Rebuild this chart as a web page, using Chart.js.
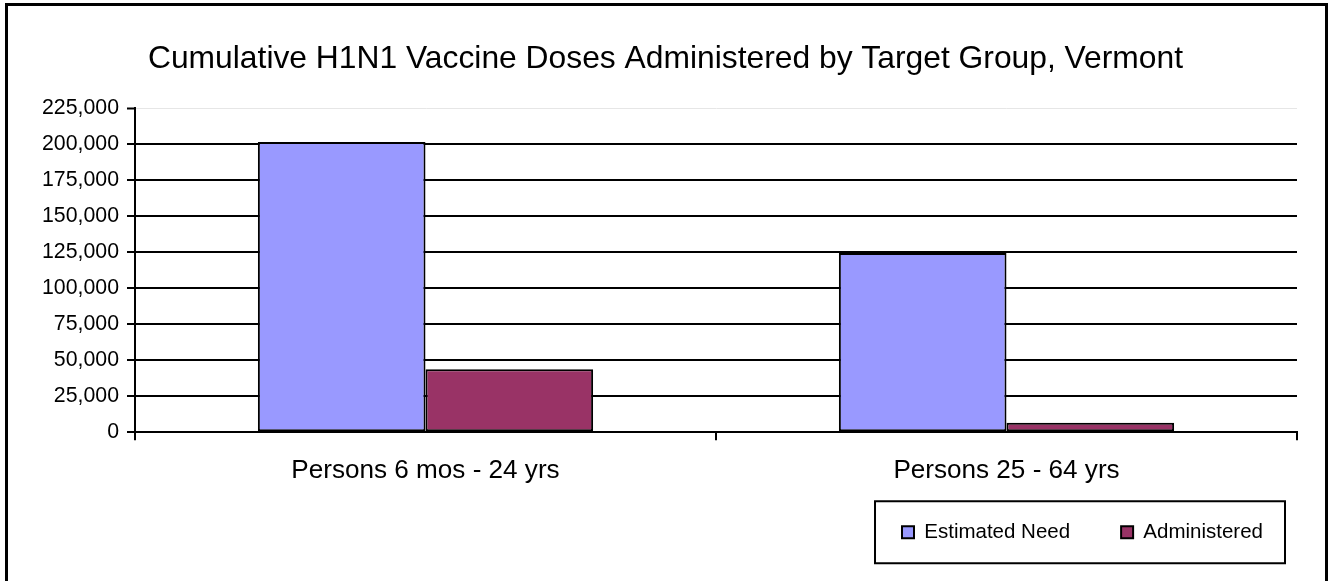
<!DOCTYPE html>
<html>
<head>
<meta charset="utf-8">
<script src="https://cdn.jsdelivr.net/npm/chart.js@4"></script>
<style>
  body { margin: 0; background: #fff; }
  #wrap { width: 1332px; height: 581px; }
</style>
</head>
<body>
<div id="wrap"><canvas id="doses"></canvas></div>
<script>
const categories = ['Persons 6 mos - 24 yrs', 'Persons 25 - 64 yrs'];
const estimatedNeed = [201500, 124500];
const administered = [43800, 6700];
const yTicks = [0, 25000, 50000, 75000, 100000, 125000, 150000, 175000, 200000, 225000];

const FONT = "'Liberation Sans', Arial, sans-serif";

// frame around the chart + box around the legend
const framePlugin = {
  id: 'frame',
  afterLayout(chart) {
    // legend sits a bit higher than the default stacking puts it
    chart.legend.top -= 16.5;
    chart.legend.bottom -= 16.5;
    // title centred on the whole frame, not on the padded box
    chart.titleBlock.left += 8.5;
    chart.titleBlock.right += 8.5;
  },
  afterDraw(chart) {
    const ctx = chart.ctx;
    ctx.save();
    ctx.strokeStyle = '#000';
    ctx.lineWidth = 3;
    ctx.beginPath();
    ctx.moveTo(6.5, 600);
    ctx.lineTo(6.5, 4.5);
    ctx.lineTo(1326.5, 4.5);
    ctx.lineTo(1326.5, 600);
    ctx.stroke();

    const boxes = chart.legend.legendHitBoxes;
    if (boxes && boxes.length) {
      const left = Math.min(...boxes.map(b => b.left)) - 27;
      const right = Math.max(...boxes.map(b => b.left + b.width)) + 22;
      const top = boxes[0].top - 20.75;
      const bottom = boxes[0].top + boxes[0].height + 20.75;
      ctx.lineWidth = 2;
      ctx.strokeRect(left, top, right - left, bottom - top);
    }
    ctx.restore();
  }
};

const data = {
  labels: categories,
  datasets: [{
    label: 'Estimated Need',
    data: estimatedNeed,
    backgroundColor: '#9999FF',
    borderColor: '#000',
    borderWidth: 2,
    borderSkipped: false,
  }, {
    label: 'Administered',
    data: administered,
    backgroundColor: '#993366',
    borderColor: '#000',
    borderWidth: 2,
    borderSkipped: false,
  }]
};

const config = {
  type: 'bar',
  data: data,
  options: {
    responsive: true,
    maintainAspectRatio: false,
    animation: false,
    categoryPercentage: 0.577,
    barPercentage: 1.0,
    layout: { padding: { left: 0, right: 18, top: 0, bottom: 12 } },
    plugins: {
      title: {
        display: true,
        text: 'Cumulative H1N1 Vaccine Doses Administered by Target Group, Vermont',
        color: '#000',
        font: { family: FONT, size: 31.8, weight: 'normal' },
        padding: { top: 39.7, bottom: 30.4 }
      },
      legend: {
        position: 'bottom',
        align: 'end',
        labels: {
          color: '#000',
          font: { family: FONT, size: 20.5 },
          boxWidth: 12,
          boxHeight: 12,
          padding: 51
        }
      },
      tooltip: { enabled: false }
    },
    scales: {
      x: {
        grid: {
          offset: true,
          drawOnChartArea: false,
          drawTicks: true,
          tickLength: 8,
          tickColor: '#000',
          lineWidth: 2
        },
        border: { display: true, color: '#000', width: 2 },
        ticks: {
          color: '#000',
          font: { family: FONT, size: 26.1 },
          padding: 15,
          maxRotation: 0
        },
        afterFit(scale) { scale.height = 55.2; }
      },
      y: {
        min: 0,
        max: 225000,
        afterBuildTicks(scale) { scale.ticks = yTicks.map(v => ({ value: v })); },
        grid: {
          color: c => (c.tick && c.tick.value === 225000) ? '#e6e6e6' : '#000',
          lineWidth: c => (c.tick && c.tick.value === 225000) ? 1 : 2,
          tickColor: '#000',
          tickWidth: 2,
          tickLength: 8
        },
        border: { display: true, color: '#000', width: 2 },
        ticks: {
          color: '#000',
          font: { family: FONT, size: 21.3 },
          padding: 8,
          callback: v => v.toLocaleString('en-US')
        },
        afterFit(scale) { scale.width = 135; }
      },
      yr: {
        position: 'right',
        display: true,
        grid: { display: false },
        border: { display: false },
        ticks: { display: false },
        afterFit(scale) { scale.width = 17; }
      }
    }
  },
  plugins: [framePlugin]
};

const dosesChart = new Chart(document.getElementById('doses'), config);
</script>
</body>
</html>
